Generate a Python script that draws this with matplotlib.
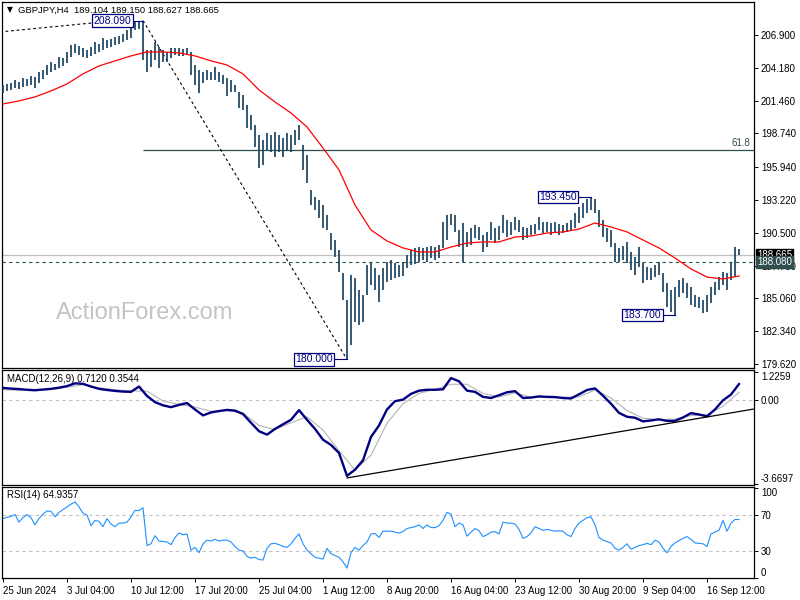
import numpy as np
import matplotlib.pyplot as plt
from matplotlib import transforms

plt.rcParams['font.family'] = ['Liberation Sans', 'DejaVu Sans']

# 足の高値・安値 (H4足を2本おきに読み取り)
BAR_HIGH = [
    202.75, 202.84, 202.92, 203.17, 203.00, 203.33, 203.25, 203.50, 203.42, 203.83,
    204.00, 204.41, 204.66, 204.49, 205.07, 204.99, 205.49, 206.07, 206.15, 205.99,
    205.82, 205.65, 205.90, 206.32, 206.15, 206.65, 206.48, 206.57, 206.73, 206.82,
    206.98, 207.31, 207.80, 208.00, 207.98, 208.09, 205.65, 205.65, 206.32, 205.90,
    205.65, 205.49, 205.82, 205.82, 205.82, 205.74, 205.82, 205.49, 204.41, 204.00,
    203.83, 204.00, 203.83, 204.25, 203.83, 203.58, 203.33, 203.17, 202.75, 202.17,
    201.92, 201.10, 200.27, 199.44, 198.61, 198.19, 198.77, 198.61, 198.86, 198.61,
    198.36, 198.77, 198.61, 199.02, 199.44, 197.78, 196.95, 194.05, 193.47, 193.22,
    192.81, 191.98, 190.48, 189.90, 189.07, 187.17, 184.93, 187.00, 186.75, 185.76,
    185.34, 187.83, 188.08, 187.58, 187.00, 187.58, 188.08, 188.25, 188.00, 187.83,
    188.08, 188.66, 189.07, 189.24, 189.32, 189.24, 189.32, 189.41, 189.32, 189.49,
    191.40, 191.98, 192.06, 191.98, 190.73, 191.31, 190.57, 190.90, 191.15, 190.98,
    190.32, 190.57, 191.40, 190.90, 191.06, 191.98, 191.56, 191.40, 191.81, 191.56,
    190.98, 190.90, 191.15, 191.23, 191.81, 191.40, 191.40, 191.31, 191.40, 191.23,
    191.15, 191.31, 191.56, 192.14, 192.64, 192.97, 193.30, 193.45, 193.30, 192.39,
    191.56, 190.90, 190.73, 189.66, 189.24, 189.41, 189.74, 188.91, 188.49, 189.32,
    188.00, 187.67, 187.58, 187.83, 188.08, 187.17, 186.34, 185.76, 186.01, 186.59,
    186.75, 186.34, 186.01, 185.34, 185.18, 184.93, 185.34, 186.01, 186.42, 186.84,
    187.25, 187.17, 188.00, 189.32, 189.15,
]
BAR_LOW = [
    202.09, 202.26, 202.34, 202.50, 202.42, 202.59, 202.67, 202.75, 202.50, 202.92,
    203.25, 203.58, 203.83, 204.00, 204.16, 204.33, 204.58, 205.07, 205.41, 205.24,
    205.07, 204.99, 205.16, 205.32, 205.49, 205.65, 205.82, 205.90, 206.07, 206.15,
    206.32, 206.48, 206.65, 207.30, 207.40, 204.83, 203.83, 204.25, 204.83, 204.16,
    204.66, 204.66, 204.99, 205.24, 205.16, 205.16, 205.24, 203.58, 202.75, 202.09,
    202.92, 203.17, 203.17, 203.17, 203.00, 202.84, 201.84, 202.17, 202.17, 200.85,
    200.68, 199.19, 199.02, 197.61, 195.87, 196.12, 197.36, 197.20, 196.78, 197.20,
    196.78, 197.36, 197.20, 197.78, 198.19, 195.71, 194.63, 192.81, 192.39, 191.73,
    190.90, 190.73, 189.07, 188.49, 187.25, 184.93, 180.00, 181.20, 183.11, 182.86,
    183.11, 185.34, 186.17, 185.76, 184.76, 185.76, 186.42, 186.59, 186.75, 186.84,
    186.92, 187.58, 187.83, 187.91, 188.08, 188.25, 188.08, 188.41, 188.25, 188.41,
    189.24, 189.90, 191.15, 190.57, 189.32, 188.08, 189.32, 189.49, 190.07, 189.90,
    188.91, 189.32, 189.90, 189.66, 189.90, 190.48, 190.15, 190.32, 190.73, 190.57,
    189.90, 190.07, 190.32, 190.40, 190.73, 190.48, 190.57, 190.32, 190.57, 190.32,
    190.48, 190.57, 190.73, 190.90, 191.31, 191.73, 192.14, 192.39, 192.14, 190.98,
    190.15, 189.74, 189.32, 188.08, 188.08, 188.25, 188.00, 187.42, 187.00, 187.67,
    186.34, 186.59, 186.59, 186.84, 187.00, 185.59, 184.35, 183.94, 183.70, 185.18,
    185.51, 185.10, 184.52, 184.35, 184.27, 183.85, 183.94, 184.68, 185.34, 185.76,
    186.17, 185.76, 186.59, 186.84, 188.63,
]
BAR_STEP = 2

# 移動平均 (赤線, 8本おき)
MA_VALUES = [
    201.18, 201.43, 201.76, 202.26, 202.84, 203.67, 204.33, 204.75, 205.16, 205.49,
    205.49, 205.41, 205.16, 204.75, 204.41, 203.67, 202.34, 201.34, 200.43, 199.27,
    197.53, 195.71, 192.80, 190.73, 189.82, 189.24, 188.91, 188.91, 189.32, 189.65,
    189.74, 189.74, 190.15, 190.23, 190.48, 190.57, 190.81, 191.31, 190.98, 190.57,
    189.90, 189.24, 188.41, 187.50, 186.83, 186.67, 186.92,
]
MA_STEP = 8

# MACD(12,26,9) メイン (4本おき)
MACD_MAIN = [
    0.54, 0.51, 0.49, 0.46, 0.44, 0.47, 0.50, 0.55, 0.62, 0.74,
    0.72, 0.60, 0.50, 0.45, 0.41, 0.38, 0.37, 0.60, 0.19, -0.08,
    -0.22, -0.30, -0.20, -0.12, -0.40, -0.66, -0.53, -0.47, -0.42, -0.45,
    -0.60, -0.98, -1.35, -1.50, -1.25, -1.05, -0.85, -0.43, -0.85, -1.25,
    -1.72, -1.95, -2.30, -3.30, -3.03, -2.62, -1.60, -1.10, -0.40, -0.04,
    0.03, 0.28, 0.42, 0.46, 0.46, 0.48, 0.97, 0.83, 0.42, 0.37,
    0.15, 0.10, 0.22, 0.35, 0.40, 0.10, 0.12, 0.17, 0.15, 0.14,
    0.10, 0.08, 0.26, 0.45, 0.52, 0.20, -0.15, -0.55, -0.72, -0.76,
    -0.92, -0.88, -0.83, -0.90, -0.90, -0.75, -0.56, -0.62, -0.70, -0.40,
    0.00, 0.25, 0.71,
]
MACD_MAIN_STEP = 4

# シグナル (8本おき)
MACD_SIGNAL = [
    0.46, 0.44, 0.42, 0.47, 0.57, 0.68, 0.55, 0.46, 0.41, 0.40,
    -0.03, -0.18, -0.30, -0.48, -0.45, -0.55, -1.10, -1.28, -0.98, -0.72,
    -1.30, -2.20, -3.05, -2.40, -1.00, -0.15, 0.30, 0.48, 0.70, 0.70,
    0.30, 0.14, 0.33, 0.12, 0.13, 0.13, 0.15, 0.45, 0.10, -0.45,
    -0.78, -0.85, -0.82, -0.67, -0.63, -0.26, 0.35,
]
MACD_SIGNAL_STEP = 8

# RSI(14) (2本おき)
RSI_VALUES = [
    66, 67.5, 68.5, 70.5, 62, 67, 70.5, 67, 59, 66,
    71, 74.5, 74, 68, 73, 76, 79, 82, 84.5, 79,
    72, 70, 58, 64, 63, 57, 66, 60, 57, 61,
    61, 62, 68, 75, 75, 78, 36, 38, 47, 41,
    40.5, 40, 37, 45, 50, 48, 49, 31, 34, 28,
    38, 42, 41, 43, 41, 42, 42, 40, 35, 31,
    30, 24, 22, 23, 20.5, 20, 33, 38, 38.5, 37,
    35, 34, 38, 44, 49, 38, 31, 27, 23, 22,
    21, 33, 27, 25, 23, 18, 11, 28, 34, 31,
    36, 40, 49, 49.5, 45, 52, 52, 52, 51, 50,
    51.5, 55, 56, 57, 59, 55, 59, 56, 56, 58,
    64, 73, 71, 57, 61, 59, 46.5, 51, 55, 52.5,
    46, 48, 51, 51.5, 49, 62, 61, 61, 60, 54,
    44, 46, 50, 57, 55, 53, 54, 53, 52, 52.5,
    52, 48, 46, 55, 61, 64, 67, 68, 59, 45,
    42, 40.5, 39, 33, 31, 34, 38, 32, 34, 36,
    37, 38.5, 37, 42, 40, 33, 28, 35, 39, 41.5,
    44, 46, 43, 39, 38.5, 38, 35, 49, 51, 53,
    64, 52, 61, 65, 64.94,
]
RSI_STEP = 2

PRICE_TICKS = [206.900, 204.180, 201.460, 198.740, 195.940, 193.220,
               190.500, 187.780, 185.060, 182.340, 179.620]
MACD_TICKS = [1.2259, 0.0, -3.6697]
MACD_TICK_LABELS = ['1.2259', '0.00', '-3.6697']
RSI_TICKS = [100, 70, 30, 0]

TIME_TICKS = [0, 32, 64, 96, 128, 160, 192, 224, 256, 288, 320, 352]
TIME_LABELS = ['25 Jun 2024', '3 Jul 04:00', '10 Jul 12:00', '17 Jul 20:00',
               '25 Jul 04:00', '1 Aug 12:00', '8 Aug 20:00', '16 Aug 04:00',
               '23 Aug 12:00', '30 Aug 20:00', '9 Sep 04:00', '16 Sep 12:00']

# スイングの高値・安値ラベル (表示文字, 足位置, 価格, 箱の中心位置)
PIVOTS = [('208.090', 70, 208.09, 54.75),
          ('180.000', 172, 180.00, 155.5),
          ('193.450', 294, 193.45, 277.5),
          ('183.700', 336, 183.70, 319.75)]
ZIGZAG_IDX = [70, 172]
ZIGZAG_PRICE = [208.09, 180.00]
LEAD_IDX = [-1.5, 44.5]
LEAD_PRICE = [207.15, 207.89]
FIB_START = 70
FIB_LEVEL = 197.36
BID_PRICE = 188.665
LEVEL_PRICE = 188.080
MACD_TREND_IDX = [172, 375.5]
MACD_TREND_VAL = [-3.39, -0.38]

TITLE = 'GBPJPY,H4  189.104 189.150 188.627 188.665'
MACD_TITLE = 'MACD(12,26,9) 0.7120 0.3544'
RSI_TITLE = 'RSI(14) 64.9357'

W, H = 800, 600
X_LIM = (-0.5, 375.5)
BAR_COLOR = '#1a4460'
SLATE = '#2f4f4f'
NAVY = '#000080'


def panel_rect(top, bottom):
    # ピクセル位置 (上から) を figure 座標に変換
    return [2 / W, 1 - bottom / H, 752 / W, (bottom - top) / H]


def style_axis(ax, labelsize=7):
    ax.set_xlim(*X_LIM)
    ax.yaxis.tick_right()
    ax.tick_params(axis='y', direction='out', length=3, width=0.7,
                   labelsize=labelsize, pad=2, colors='black')
    ax.tick_params(axis='x', bottom=False, labelbottom=False)
    for sp in ax.spines.values():
        sp.set_linewidth(0.9)
        sp.set_color('black')


def draw_price(fig, ax):
    style_axis(ax)
    ax.set_ylim(179.29, 209.63)
    ax.set_yticks(PRICE_TICKS)
    ax.set_yticklabels([f'{v:.3f}' for v in PRICE_TICKS])

    # 水平線
    ax.axhline(BID_PRICE, color='#c0c0c0', lw=0.9, zorder=2)
    ax.axhline(LEVEL_PRICE, color=SLATE, lw=0.8, dashes=(3, 3), zorder=2)
    ax.hlines(FIB_LEVEL, FIB_START, X_LIM[1], color=SLATE, lw=0.9, zorder=2)
    ax.text(373.5, FIB_LEVEL + 0.15, '61.8', color=SLATE, fontsize=7,
            ha='right', va='bottom')

    # ジグザグ (点線)
    ax.plot(ZIGZAG_IDX, ZIGZAG_PRICE, color='black', lw=0.8,
            dashes=(2.5, 2.5), zorder=2)
    ax.plot(LEAD_IDX, LEAD_PRICE, color='black', lw=0.8,
            dashes=(2.5, 2.5), zorder=2)

    # バー
    idx = np.arange(len(BAR_HIGH)) * BAR_STEP
    ax.vlines(idx, BAR_LOW, BAR_HIGH, color=BAR_COLOR, lw=1.25, zorder=3)

    # 移動平均
    ma_idx = np.arange(len(MA_VALUES)) * MA_STEP
    ax.plot(ma_idx, MA_VALUES, color='red', lw=0.9, zorder=4)

    # 高値・安値ラベル
    for text, pos, price, center in PIVOTS:
        ax.plot([center + 10.25, pos], [price, price], color=NAVY, lw=0.8,
                zorder=5)
        ax.text(center, price, text, color=NAVY, fontsize=7.5, ha='center',
                va='center', zorder=6,
                bbox=dict(boxstyle='square,pad=0.12', fc='white', ec=NAVY,
                          lw=0.9))

    # 現在値タグ
    trans = transforms.blended_transform_factory(ax.transAxes, ax.transData)
    for price, face in ((BID_PRICE, 'black'), (LEVEL_PRICE, SLATE)):
        ax.text(1.004, price, f'{price:.3f}', transform=trans, color='white',
                fontsize=7, ha='left', va='center', clip_on=False, zorder=7,
                bbox=dict(boxstyle='square,pad=0.12', fc=face, ec=face))

    # ウォーターマーク
    fig.text(145 / W, 1 - 313 / H, 'ActionForex.com', color='#c4c4c4',
             fontsize=17, ha='center', va='center')


def draw_macd(ax):
    style_axis(ax)
    ax.set_ylim(-3.699, 1.323)
    ax.set_yticks(MACD_TICKS)
    ax.set_yticklabels(MACD_TICK_LABELS)
    labels = ax.get_yticklabels()
    labels[0].set_va('top')
    labels[2].set_va('bottom')

    ax.axhline(0, color='#c0c0c0', lw=0.8, dashes=(3, 3), zorder=1)
    sig_idx = np.arange(len(MACD_SIGNAL)) * MACD_SIGNAL_STEP
    ax.plot(sig_idx, MACD_SIGNAL, color='#b4b4b4', lw=0.8, zorder=2)
    main_idx = np.arange(len(MACD_MAIN)) * MACD_MAIN_STEP
    ax.plot(main_idx, MACD_MAIN, color=NAVY, lw=1.7, zorder=3)
    ax.plot(MACD_TREND_IDX, MACD_TREND_VAL, color='black', lw=0.9, zorder=4)


def draw_rsi(ax):
    style_axis(ax)
    ax.set_ylim(0, 101.1)
    ax.set_yticks(RSI_TICKS)
    ax.set_yticklabels([str(v) for v in RSI_TICKS])
    labels = ax.get_yticklabels()
    labels[0].set_va('top')
    labels[3].set_va('bottom')

    ax.axhline(70, color='#c0c0c0', lw=0.8, dashes=(3, 3), zorder=1)
    ax.axhline(30, color='#c0c0c0', lw=0.8, dashes=(3, 3), zorder=1)
    rsi_idx = np.arange(len(RSI_VALUES)) * RSI_STEP
    ax.plot(rsi_idx, RSI_VALUES, color='#1e90ff', lw=0.8, zorder=2)

    ax.set_xticks(TIME_TICKS)
    ax.set_xticklabels(TIME_LABELS)
    ax.tick_params(axis='x', bottom=True, labelbottom=True, direction='out',
                   length=3, width=0.7, labelsize=7, pad=2.5)
    for lab in ax.get_xticklabels():
        lab.set_ha('left')


def main():
    fig = plt.figure(figsize=(W / 100, H / 100), dpi=100, facecolor='white')
    ax_p = fig.add_axes(panel_rect(2, 368))
    ax_m = fig.add_axes(panel_rect(370, 485))
    ax_r = fig.add_axes(panel_rect(487, 578))

    draw_price(fig, ax_p)
    draw_macd(ax_m)
    draw_rsi(ax_r)

    fig.text(7 / W, 1 - 10 / H, '\u25bc', fontsize=5.5, ha='left',
             va='center', family=['DejaVu Sans'])
    fig.text(18 / W, 1 - 10 / H, TITLE, fontsize=6.8, ha='left', va='center')
    fig.text(7 / W, 1 - 379 / H, MACD_TITLE, fontsize=7, ha='left',
             va='center')
    fig.text(7 / W, 1 - 495 / H, RSI_TITLE, fontsize=7, ha='left',
             va='center')

    fig.savefig('out.png', dpi=100, facecolor='white')


if __name__ == '__main__':
    main()
